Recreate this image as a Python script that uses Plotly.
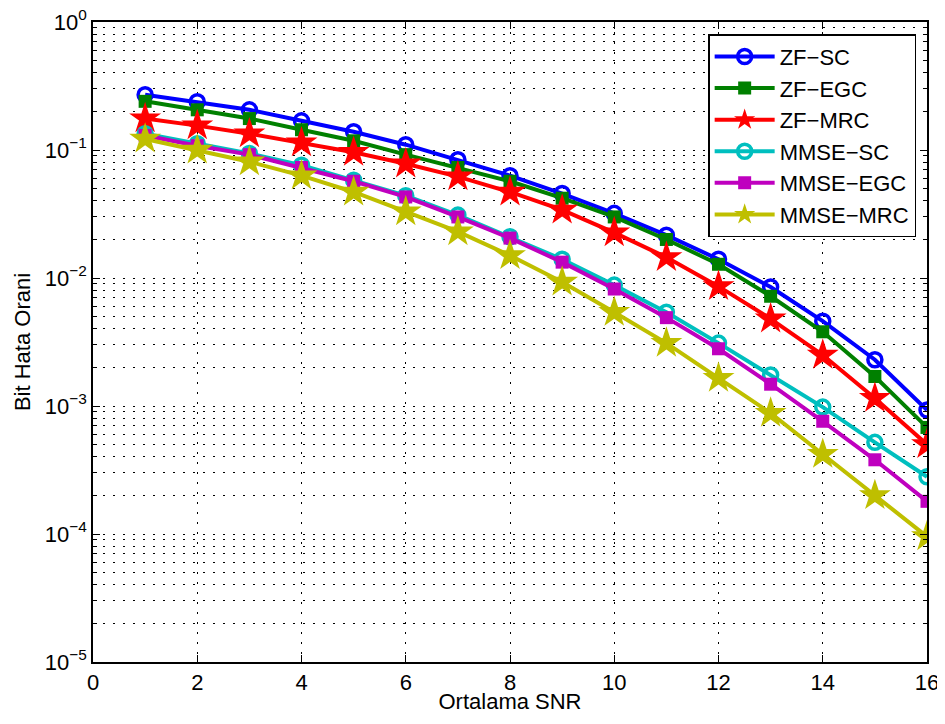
import plotly.graph_objects as go

snr = list(range(1, 17))
zf_sc = [0.27, 0.238, 0.206, 0.169, 0.139, 0.110, 0.084, 0.063, 0.0457, 0.032, 0.0216, 0.014, 0.0085, 0.0046, 0.0023, 0.00093]
zf_egc = [0.24, 0.206, 0.176, 0.144, 0.118, 0.092, 0.073, 0.057, 0.042, 0.030, 0.020, 0.0128, 0.0072, 0.0038, 0.0017, 0.00068]
zf_mrc = [0.176, 0.155, 0.134, 0.114, 0.096, 0.078, 0.062, 0.047, 0.034, 0.0226, 0.0145, 0.0086, 0.0048, 0.0025, 0.00115, 0.0005]
mmse_sc = [0.134, 0.112, 0.094, 0.076, 0.058, 0.044, 0.031, 0.021, 0.014, 0.0088, 0.0054, 0.0031, 0.00175, 0.00098, 0.00052, 0.00028]
mmse_egc = [0.13, 0.108, 0.092, 0.073, 0.057, 0.043, 0.030, 0.0205, 0.0133, 0.0082, 0.0049, 0.0028, 0.00148, 0.00076, 0.00038, 0.00018]
mmse_mrc = [0.122, 0.100, 0.081, 0.063, 0.047, 0.033, 0.023, 0.015, 0.0093, 0.0054, 0.0031, 0.00165, 0.00088, 0.00042, 0.0002, 0.0000955]

series = [
    ("ZF\u2212SC", zf_sc, "#0000ff", "circle-open", 14),
    ("ZF\u2212EGC", zf_egc, "#008000", "square", 13),
    ("ZF\u2212MRC", zf_mrc, "#ff0000", "star", 24),
    ("MMSE\u2212SC", mmse_sc, "#00bfbf", "circle-open", 14),
    ("MMSE\u2212EGC", mmse_egc, "#bf00bf", "square", 13),
    ("MMSE\u2212MRC", mmse_mrc, "#bfbf00", "star", 24),
]

x_ticks = [0, 2, 4, 6, 8, 10, 12, 14, 16]
y_tickvals = [1, 0.1, 0.01, 0.001, 0.0001, 0.00001]
y_ticktext = ["10<sup>0</sup>", "10<sup>\u22121</sup>", "10<sup>\u22122</sup>", "10<sup>\u22123</sup>", "10<sup>\u22124</sup>", "10<sup>\u22125</sup>"]

fig = go.Figure()
for name, vals, col, sym, sz in series:
    fig.add_trace(go.Scatter(
        x=snr, y=vals, name=name, mode="lines+markers",
        line=dict(color=col, width=4),
        marker=dict(symbol=sym, size=sz, color=col, line=dict(color=col, width=3.5 if "open" in sym else 0)),
    ))

font = "Liberation Sans"
fs = 22
grid = dict(showgrid=True, gridcolor="black", griddash="2px,8px", gridwidth=1)
fig.update_layout(
    width=937, height=706,
    margin=dict(l=85, r=18, t=14, b=52),
    paper_bgcolor="white", plot_bgcolor="white",
    font=dict(family=font, size=fs, color="black"),
    legend=dict(x=0.987, y=0.981, xanchor="right", yanchor="top",
                bgcolor="white", bordercolor="black", borderwidth=1.5,
                font=dict(family=font, size=fs, color="black"), itemwidth=60, tracegroupgap=0),
    xaxis=dict(range=[0, 16], tickvals=x_ticks, showline=True, linecolor="black", linewidth=1.5,
               mirror="allticks", ticks="inside", ticklen=7, tickcolor="black",
               tickfont=dict(family=font, size=fs, color="black"), automargin=False,
               ticklabeloverflow="allow",
               zeroline=False, **grid,
               title=dict(text="Ortalama SNR", standoff=6, font=dict(family=font, size=fs, color="black"))),
    yaxis=dict(type="log", range=[-5, 0], tickvals=y_tickvals, ticktext=y_ticktext,
               showline=True, linecolor="black", linewidth=1.5, mirror="allticks",
               ticks="inside", ticklen=7, tickcolor="black", automargin=False,
               ticklabeloverflow="allow",
               tickfont=dict(family=font, size=fs, color="black"),
               **grid,
               minor=dict(dtick="D1", ticks="inside", ticklen=4, tickcolor="black",
                          showgrid=True, gridcolor="black", griddash="2px,8px", gridwidth=1),
               title=dict(text="Bit Hata Orani", standoff=8, font=dict(family=font, size=fs, color="black"))),
)

fig.write_html("out.html")
